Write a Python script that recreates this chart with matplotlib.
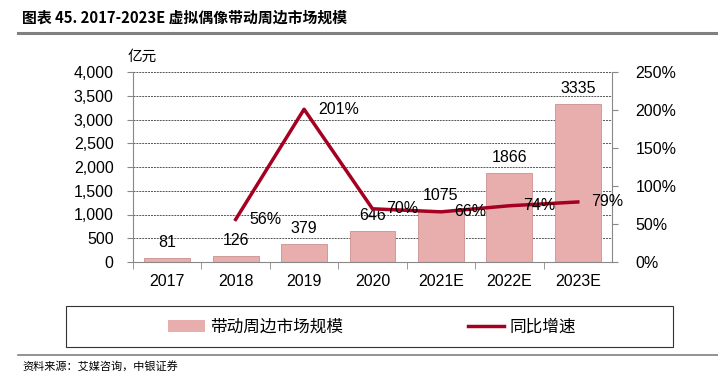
import matplotlib.pyplot as plt
from matplotlib.lines import Line2D
from matplotlib.patches import Patch, Rectangle
from matplotlib.ticker import FuncFormatter

plt.rcParams['font.family'] = ['Liberation Sans', 'Noto Sans CJK SC', 'DejaVu Sans']

years = ['2017', '2018', '2019', '2020', '2021E', '2022E', '2023E']
market = [81, 126, 379, 646, 1075, 1866, 3335]
growth = [None, 56, 201, 70, 66, 74, 79]
growth_labels = ['', '56%', '201%', '70%', '66%', '74%', '79%']

bar_color = '#E8AEAE'
line_color = '#A50021'
fs = 11.5

fig = plt.figure(figsize=(7.18, 3.75), dpi=100)
ax = fig.add_axes([133 / 718, 1 - 262 / 375, 479 / 718, 190 / 375])
ax2 = ax.twinx()

x = list(range(len(years)))
ax.bar(x, market, width=0.67, color=bar_color, edgecolor='#C99090', linewidth=0.6, zorder=2)
for xi, v in zip(x, market):
    ax.text(xi, v + 170, str(v), ha='center', va='bottom', fontsize=fs)

ax.set_xlim(-0.5, 6.5)
ax.set_ylim(0, 4000)
ax.set_yticks(range(0, 4001, 500))
ax.yaxis.set_major_formatter(FuncFormatter(lambda v, p: f'{int(v):,}'))
ax.set_xticks(x)
ax.set_xticklabels(years)
ax.set_xticks([i + 0.5 for i in x[:-1]] + [-0.5], minor=True)
ax.tick_params(axis='x', which='major', length=0, labelsize=fs, pad=9)
ax.tick_params(axis='x', which='minor', length=5, color='#888888')
ax.tick_params(axis='y', labelsize=fs, length=4, pad=10, color='#888888')
ax.grid(axis='y', linestyle=(0, (2, 1)), color='#555555', linewidth=0.7, zorder=0)
for s in ['top', 'right']:
    ax.spines[s].set_visible(False)
for s in ['left', 'bottom']:
    ax.spines[s].set_color('#888888')

gx = [xi for xi, g in zip(x, growth) if g is not None]
gy = [g for g in growth if g is not None]
ax2.plot(gx, gy, color=line_color, linewidth=2.5, zorder=3)
ax2.set_ylim(0, 250)
ax2.set_yticks(range(0, 251, 50))
ax2.yaxis.set_major_formatter(FuncFormatter(lambda v, p: f'{int(v)}%'))
ax2.tick_params(axis='y', labelsize=fs, length=4, pad=13, color='#888888')
for s in ['top', 'left', 'bottom']:
    ax2.spines[s].set_visible(False)
ax2.spines['right'].set_color('#888888')

for xi, lab in zip(x, growth_labels):
    if not lab:
        continue
    ax2.text(xi + 0.2, growth[xi], lab, ha='left', va='center', fontsize=fs)

fig.text(128 / 718, 1 - 57 / 375, '亿元', fontsize=10.5, ha='left', va='center',
         family=['Noto Sans CJK SC'])

fig.text(22 / 718, 1 - 18 / 375, '图表 45. 2017-2023E 虚拟偶像带动周边市场规模', fontsize=10.7,
         fontweight='bold', ha='left', va='center', family=['Noto Sans CJK SC', 'DejaVu Sans'])
fig.add_artist(Line2D([18 / 718, 1], [1 - 33 / 375] * 2, color='#808080', linewidth=2.2))

# legend box
fig.add_artist(Rectangle((66 / 718, 1 - 347 / 375), 607 / 718, 41 / 375,
                         transform=fig.transFigure, fill=False, edgecolor='#333333',
                         linewidth=0.8))
handles = [Patch(facecolor=bar_color, edgecolor='none'),
           Line2D([], [], color=line_color, linewidth=2.5)]
fig.legend(handles, ['带动周边市场规模', '同比增速'], loc='center',
           bbox_to_anchor=(372 / 718, 1 - 327 / 375), ncol=2, frameon=False,
           columnspacing=7.5, handlelength=2.2, handletextpad=0.3,
           prop={'family': ['Noto Sans CJK SC'], 'size': 12})

fig.add_artist(Line2D([18 / 718, 1], [1 - 355 / 375] * 2, color='#808080', linewidth=1.2))
fig.text(22 / 718, 1 - 366 / 375, '资料来源：艾媒咨询，中银证券', fontsize=8, style='italic',
         ha='left', va='center', family=['Noto Sans CJK SC'])

fig.savefig('out.png', dpi=100)
